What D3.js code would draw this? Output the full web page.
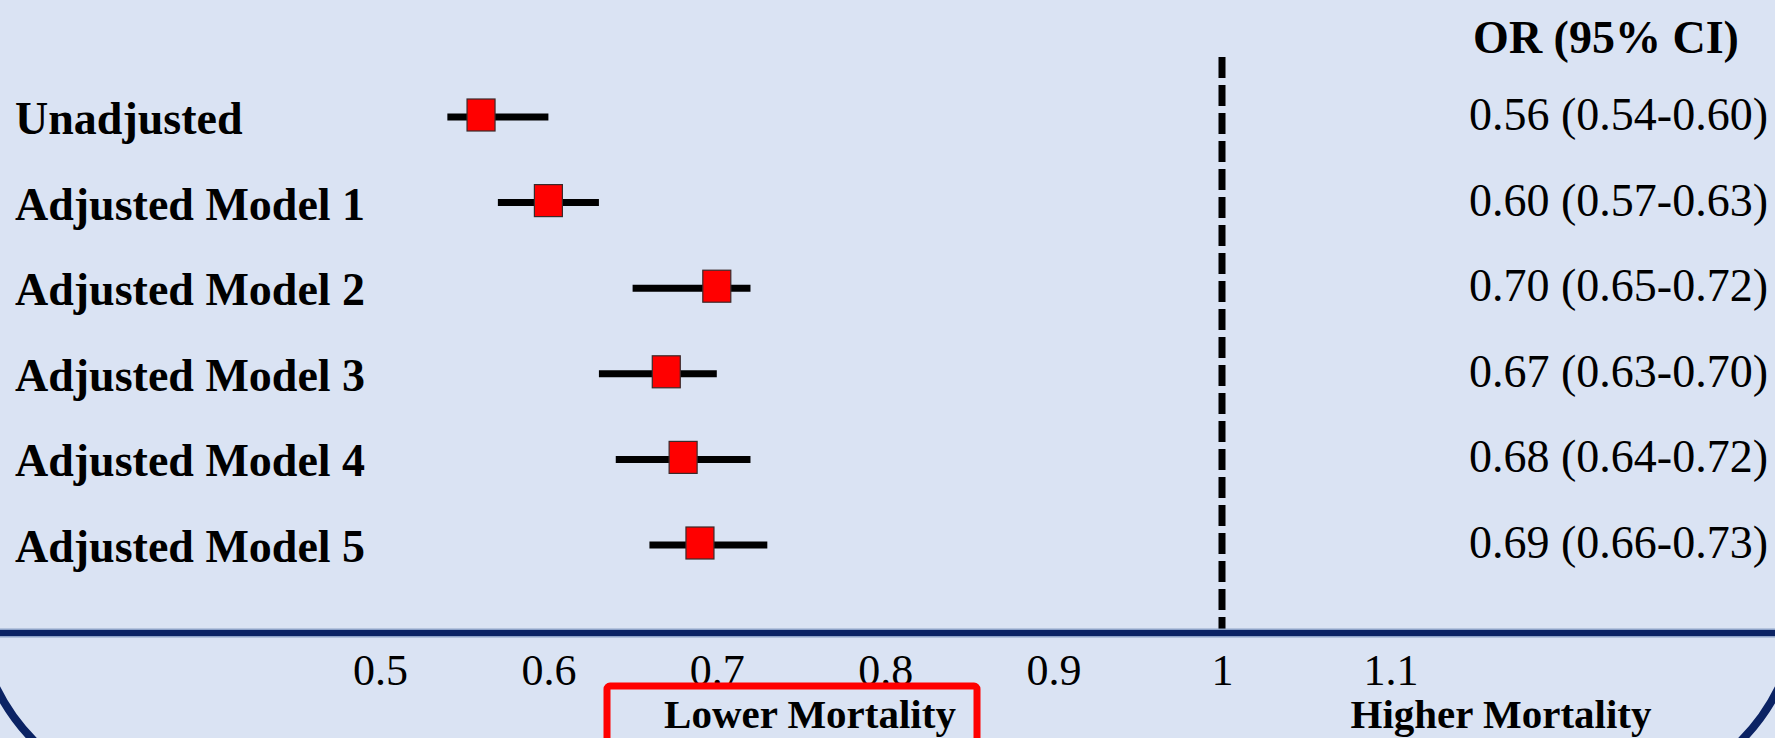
<!DOCTYPE html>
<html>
<head>
<meta charset="utf-8">
<script src="https://cdn.jsdelivr.net/npm/d3@7"></script>
<style>
  html, body { margin: 0; padding: 0; background: #dae3f3; overflow: hidden; }
  svg text { font-family: "Liberation Serif", "Times New Roman", serif; fill: #000; }
</style>
</head>
<body>
<svg id="chart"></svg>
<script>
// rows of the forest plot
var models = ["Unadjusted", "Adjusted Model 1", "Adjusted Model 2",
  "Adjusted Model 3", "Adjusted Model 4", "Adjusted Model 5"];
var oddsRatio = [0.56, 0.60, 0.70, 0.67, 0.68, 0.69];
var ciLow = [0.54, 0.57, 0.65, 0.63, 0.64, 0.66];
var ciHigh = [0.60, 0.63, 0.72, 0.70, 0.72, 0.73];
var tickValues = [0.5, 0.6, 0.7, 0.8, 0.9, 1, 1.1];

var dimensions = { width: 1775, height: 738 };

var data = models.map((m, i) => {
  return { model: m, or: oddsRatio[i], lo: ciLow[i], hi: ciHigh[i] };
});

var svg = d3.select("#chart")
  .attr("width", dimensions.width)
  .attr("height", dimensions.height);

var xScale = d3.scaleLinear().domain([0.5, 1]).range([380, 1222]);
var yScale = d3.scalePoint().domain(models).range([115, 543]);
var axisY = 633;
var fmt = d3.format(".2f");

// rounded frame, only its bottom corners show
svg.append("rect")
  .attr("x", -24)
  .attr("y", -600)
  .attr("width", 1823)
  .attr("height", 1400)
  .attr("rx", 200)
  .attr("fill", "none")
  .attr("stroke", "#0b2364")
  .attr("stroke-width", 8);

// reference line at OR = 1
svg.append("line")
  .attr("x1", xScale(1))
  .attr("x2", xScale(1))
  .attr("y1", 57)
  .attr("y2", axisY)
  .attr("stroke", "#000")
  .attr("stroke-width", 7)
  .attr("stroke-dasharray", "21 7");

// axis line
svg.append("line")
  .attr("x1", 0)
  .attr("x2", dimensions.width)
  .attr("y1", axisY)
  .attr("y2", axisY)
  .attr("stroke", "#8ea3c8")
  .attr("stroke-width", 9);
svg.append("line")
  .attr("x1", 0)
  .attr("x2", dimensions.width)
  .attr("y1", axisY)
  .attr("y2", axisY)
  .attr("stroke", "#0b2364")
  .attr("stroke-width", 6);

var xAxisgen = d3.axisBottom(xScale)
  .tickValues(tickValues)
  .tickSize(0)
  .tickFormat((d) => String(d));
var xAxis = svg.append("g")
  .attr("transform", `translate(0,${axisY})`)
  .call(xAxisgen);
xAxis.select(".domain").remove();
xAxis.selectAll("text")
  .attr("y", 52)
  .attr("dy", 0)
  .attr("font-size", 44)
  .style("font-family", '"Liberation Serif", "Times New Roman", serif')
  .attr("fill", "#000");

// confidence intervals
svg.selectAll(".ci")
  .data(data)
  .enter()
  .append("line")
  .attr("class", "ci")
  .attr("x1", (d) => xScale(d.lo))
  .attr("x2", (d) => xScale(d.hi))
  .attr("y1", (d) => yScale(d.model) + 2)
  .attr("y2", (d) => yScale(d.model) + 2)
  .attr("stroke", "#000")
  .attr("stroke-width", 7);

// point estimates
svg.selectAll(".pt")
  .data(data)
  .enter()
  .append("rect")
  .attr("class", "pt")
  .attr("x", (d) => xScale(d.or) - 14)
  .attr("y", (d) => yScale(d.model) - 16)
  .attr("width", 28)
  .attr("height", 32)
  .attr("fill", "#ff0000")
  .attr("stroke", "#3a2a2a")
  .attr("stroke-width", 1.2);

// row labels
svg.selectAll(".label")
  .data(data)
  .enter()
  .append("text")
  .attr("class", "label")
  .attr("x", 15)
  .attr("y", (d) => yScale(d.model) + 19)
  .attr("font-size", 46)
  .attr("font-weight", "bold")
  .text((d) => d.model);

// OR (95% CI) column
svg.append("text")
  .attr("x", 1606)
  .attr("y", 53)
  .attr("text-anchor", "middle")
  .attr("font-size", 46)
  .attr("font-weight", "bold")
  .text("OR (95% CI)");

svg.selectAll(".val")
  .data(data)
  .enter()
  .append("text")
  .attr("class", "val")
  .attr("x", 1768)
  .attr("y", (d) => yScale(d.model) + 15)
  .attr("text-anchor", "end")
  .attr("font-size", 46)
  .text((d) => `${fmt(d.or)} (${fmt(d.lo)}-${fmt(d.hi)})`);

// direction labels
svg.append("rect")
  .attr("x", 607)
  .attr("y", 686)
  .attr("width", 370)
  .attr("height", 100)
  .attr("rx", 3)
  .attr("fill", "none")
  .attr("stroke", "#ff0000")
  .attr("stroke-width", 7);

svg.append("text")
  .attr("x", 810)
  .attr("y", 728)
  .attr("text-anchor", "middle")
  .attr("font-size", 41)
  .attr("font-weight", "bold")
  .text("Lower Mortality");

svg.append("text")
  .attr("x", 1501)
  .attr("y", 728)
  .attr("text-anchor", "middle")
  .attr("font-size", 41)
  .attr("font-weight", "bold")
  .text("Higher Mortality");
</script>
</body>
</html>
